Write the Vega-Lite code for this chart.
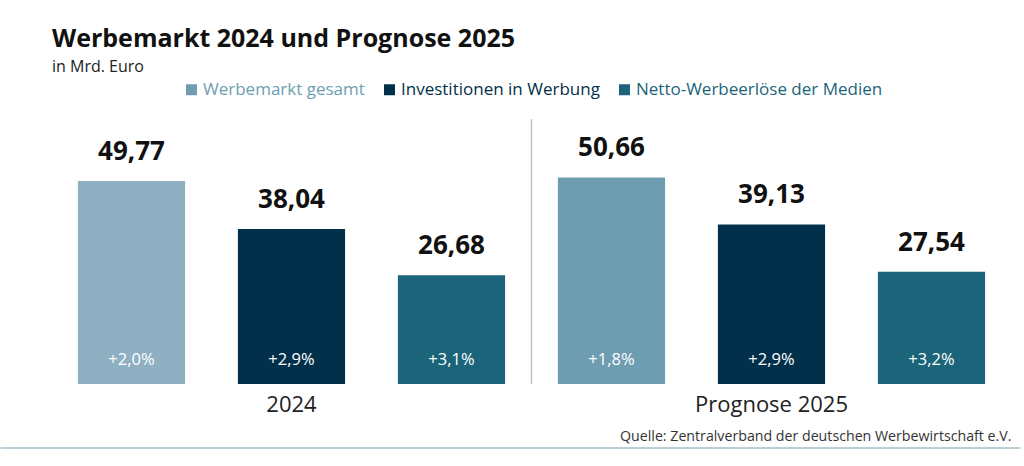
{
  "$schema": "https://vega.github.io/schema/vega-lite/v6.json",
  "width": 1020,
  "height": 265,
  "autosize": {"type": "none"},
  "padding": {"left": 0, "top": 119, "right": 4, "bottom": 82},
  "background": "white",
  "title": {
    "text": "Werbemarkt 2024 und Prognose 2025",
    "subtitle": "in Mrd. Euro",
    "anchor": "start",
    "frame": "group",
    "dx": 52,
    "fontSize": 25,
    "fontWeight": "bold",
    "color": "#111111",
    "subtitleFontSize": 16,
    "subtitleColor": "#222222",
    "subtitlePadding": 7,
    "offset": 6
  },
  "config": {
    "font": "Open Sans",
    "view": {"stroke": null},
    "locale": {"number": {"decimal": ",", "thousands": ".", "grouping": [3], "currency": ["", " €"]}}
  },
  "data": {
    "values": [
      {"group": "2024", "series": "Werbemarkt gesamt", "value": 49.77, "change": 0.020},
      {"group": "2024", "series": "Investitionen in Werbung", "value": 38.04, "change": 0.029},
      {"group": "2024", "series": "Netto-Werbeerlöse der Medien", "value": 26.68, "change": 0.031},
      {"group": "Prognose 2025", "series": "Werbemarkt gesamt", "value": 50.66, "change": 0.018},
      {"group": "Prognose 2025", "series": "Investitionen in Werbung", "value": 39.13, "change": 0.029},
      {"group": "Prognose 2025", "series": "Netto-Werbeerlöse der Medien", "value": 27.54, "change": 0.032}
    ]
  },
  "encoding": {
    "x": {
      "field": "group",
      "type": "nominal",
      "sort": ["2024", "Prognose 2025"],
      "scale": {"domain": ["2024", "Prognose 2025"], "paddingInner": 0, "paddingOuter": 0.0625, "align": 0.858},
      "axis": {"title": null, "labels": false, "ticks": false, "offset": 63.5, "domainColor": "#a9bfcb", "domainWidth": 1.5}
    },
    "y": {"type": "quantitative", "scale": {"domain": [0, 65]}, "axis": null}
  },
  "layer": [
    {
      "mark": {"type": "bar"},
      "encoding": {
        "xOffset": {
          "field": "series",
          "type": "nominal",
          "scale": {"domain": ["Werbemarkt gesamt", "Investitionen in Werbung", "Netto-Werbeerlöse der Medien"], "paddingInner": 0.33, "paddingOuter": 0.165}
        },
        "y": {"field": "value", "type": "quantitative"},
        "color": {
          "condition": {"test": "datum.group === '2024' && datum.series === 'Werbemarkt gesamt'", "value": "#8fb0c3"},
          "field": "series",
          "type": "nominal",
          "scale": {
            "domain": ["Werbemarkt gesamt", "Investitionen in Werbung", "Netto-Werbeerlöse der Medien"],
            "range": ["#6e9db1", "#02304a", "#1b6479"]
          },
          "legend": {
            "orient": "none",
            "direction": "horizontal",
            "legendX": 183,
            "legendY": -38,
            "title": null,
            "symbolType": "square",
            "symbolSize": 121,
            "symbolStrokeWidth": 0,
            "symbolOpacity": 1,
            "labelFontSize": 17,
            "labelFont": "Open Sans",
            "labelLimit": 400,
            "labelOffset": 3,
            "columnPadding": 16,
            "encode": {"labels": {"update": {"fill": {"scale": "color", "field": "value"}}}}
          }
        }
      }
    },
    {
      "mark": {"type": "text", "fontSize": 26, "fontWeight": "bold", "color": "#111111", "baseline": "alphabetic", "dy": -21},
      "encoding": {
        "xOffset": {"field": "series", "type": "nominal"},
        "y": {"field": "value", "type": "quantitative"},
        "text": {"field": "value", "type": "quantitative", "format": ".2f"}
      }
    },
    {
      "mark": {"type": "text", "fontSize": 16.5, "color": "white", "baseline": "alphabetic", "dy": -19},
      "encoding": {
        "xOffset": {"field": "series", "type": "nominal"},
        "y": {"datum": 0},
        "text": {"field": "change", "type": "quantitative", "format": "+.1%"}
      }
    },
    {
      "transform": [{"filter": "datum.series === 'Investitionen in Werbung'"}],
      "mark": {"type": "text", "fontSize": 22, "color": "#222222", "baseline": "alphabetic", "dy": 28},
      "encoding": {
        "y": {"datum": 0},
        "text": {"field": "group", "type": "nominal"}
      }
    },
    {
      "data": {"values": [{"divider": "Prognose 2025"}]},
      "mark": {"type": "rule", "color": "#b4c7d2", "strokeWidth": 1.5},
      "encoding": {
        "x": {"field": "divider", "type": "nominal", "bandPosition": 0},
        "y": {"datum": 65},
        "y2": {"datum": 0}
      }
    },
    {
      "data": {"values": [{"anchor": "Prognose 2025", "source": "Quelle: Zentralverband der deutschen Werbewirtschaft e.V."}]},
      "mark": {"type": "text", "fontSize": 14.2, "color": "#333333", "align": "right", "baseline": "alphabetic", "dy": 57},
      "encoding": {
        "x": {"field": "anchor", "type": "nominal", "bandPosition": 1},
        "y": {"datum": 0},
        "text": {"field": "source", "type": "nominal"}
      }
    }
  ]
}
